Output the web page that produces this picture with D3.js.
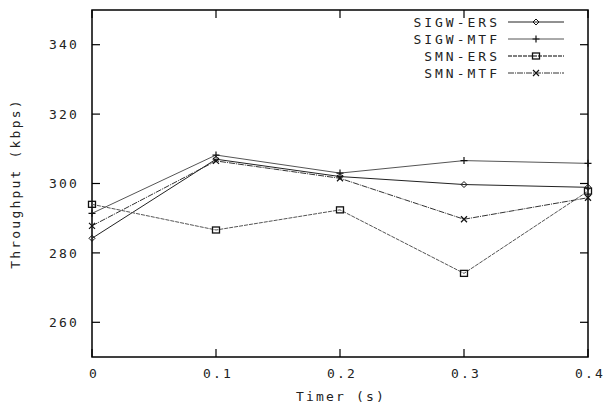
<!DOCTYPE html>
<html><head><meta charset="utf-8">
<script src="https://cdn.jsdelivr.net/npm/d3@7/dist/d3.min.js"></script>
<style>
html,body{margin:0;padding:0;background:#fff;}
svg text{font-family:"DejaVu Sans Mono",monospace;font-size:13px;fill:#222;letter-spacing:2.2px;}
svg text.leg{letter-spacing:3px;}
</style></head>
<body><svg id="c" width="609" height="405"></svg>
<script>
const timers = [0, 0.1, 0.2, 0.3, 0.4];
const xTicks = [0, 0.1, 0.2, 0.3, 0.4];
const yTicks = [260, 280, 300, 320, 340];
const seriesNames = ["SIGW-ERS", "SIGW-MTF", "SMN-ERS", "SMN-MTF"];
const sigwErs = [284.2, 307.0, 302.0, 299.7, 298.9];
const sigwMtf = [291.4, 308.2, 303.0, 306.6, 305.8];
const smnErs  = [294.0, 286.6, 292.4, 274.1, 297.8];
const smnMtf  = [287.8, 306.5, 301.5, 289.7, 295.9];

const svg = d3.select("#c");
const L = 92, R = 588, T = 10, B = 357;
const x = d3.scaleLinear().domain([0, 0.4]).range([L, R]);
const y = d3.scaleLinear().domain([250, 350]).range([B, T]);

const series = [
  {name: seriesNames[0], vals: sigwErs, marker: "diamond", stroke: "#222", width: 1, dash: null},
  {name: seriesNames[1], vals: sigwMtf, marker: "plus", stroke: "#555", width: 1, dash: null},
  {name: seriesNames[2], vals: smnErs, marker: "square", stroke: "#555", width: 1, dash: "4,1"},
  {name: seriesNames[3], vals: smnMtf, marker: "cross", stroke: "#333", width: 1, dash: "6,1,1,1"}
];

// ticks (inward, mirrored)
const tl = 8;
const axisG = svg.append("g");
yTicks.forEach(v => {
  axisG.append("line").attr("x1", L).attr("x2", L + tl).attr("y1", y(v)).attr("y2", y(v)).attr("stroke", "#000").attr("stroke-width", 1.2);
  axisG.append("line").attr("x1", R).attr("x2", R - tl).attr("y1", y(v)).attr("y2", y(v)).attr("stroke", "#000").attr("stroke-width", 1.2);
  axisG.append("text").attr("x", L - 13).attr("y", y(v)).attr("dy", "0.36em").attr("text-anchor", "end").text(v);
});
xTicks.forEach(v => {
  axisG.append("line").attr("x1", x(v)).attr("x2", x(v)).attr("y1", B).attr("y2", B - tl).attr("stroke", "#000").attr("stroke-width", 1.2);
  axisG.append("line").attr("x1", x(v)).attr("x2", x(v)).attr("y1", T).attr("y2", T + tl).attr("stroke", "#000").attr("stroke-width", 1.2);
  axisG.append("text").attr("x", x(v) + 2).attr("y", 373).attr("dy", "0.36em").attr("text-anchor", "middle").text(v === 0 ? "0" : d3.format(".1f")(v));
});

// frame
svg.append("rect").attr("x", L).attr("y", T).attr("width", R - L).attr("height", B - T)
  .attr("fill", "none").attr("stroke", "#000").attr("stroke-width", 1.5);

// axis titles
svg.append("text").attr("x", (L + R) / 2 + 1).attr("y", 396).attr("dy", "0.36em").attr("text-anchor", "middle").text("Timer (s)");
svg.append("text").attr("transform", `translate(15,${(T + B) / 2}) rotate(-90)`).attr("dy", "0.36em").attr("text-anchor", "middle").text("Throughput (kbps)");

function drawMarker(g, type, cx, cy, color) {
  if (type === "diamond") {
    g.append("path").attr("d", `M${cx},${cy-3}L${cx+3},${cy}L${cx},${cy+3}L${cx-3},${cy}Z`).attr("fill", "none").attr("stroke", color).attr("stroke-width", 1);
  } else if (type === "plus") {
    g.append("path").attr("d", `M${cx-3.5},${cy}H${cx+3.5}M${cx},${cy-3.5}V${cy+3.5}`).attr("stroke", color).attr("stroke-width", 1.2);
  } else if (type === "square") {
    g.append("rect").attr("x", cx - 3.5).attr("y", cy - 3).attr("width", 7).attr("height", 6).attr("fill", "none").attr("stroke", color).attr("stroke-width", 1.3);
  } else {
    g.append("path").attr("d", `M${cx-3},${cy-3}L${cx+3},${cy+3}M${cx-3},${cy+3}L${cx+3},${cy-3}`).attr("stroke", color).attr("stroke-width", 1.2);
  }
}

const line = d3.line().x((d, i) => x(timers[i])).y(d => y(d));
series.forEach(s => {
  const g = svg.append("g");
  g.append("path").attr("d", line(s.vals)).attr("fill", "none").attr("stroke", s.stroke)
    .attr("stroke-width", s.width).attr("stroke-dasharray", s.dash);
  s.vals.forEach((v, i) => drawMarker(g, s.marker, x(timers[i]), y(v), "#111"));
});

// legend
const legY = [22, 39, 56, 73];
series.forEach((s, i) => {
  const g = svg.append("g");
  g.append("text").attr("class", "leg").attr("x", 500).attr("y", legY[i]).attr("dy", "0.36em").attr("text-anchor", "end").text(s.name);
  g.append("line").attr("x1", 508).attr("x2", 564).attr("y1", legY[i]).attr("y2", legY[i])
    .attr("stroke", s.stroke).attr("stroke-width", i === 2 ? 1.5 : 1).attr("stroke-dasharray", s.dash);
  drawMarker(g, s.marker, 536, legY[i], "#111");
});
</script></body></html>
